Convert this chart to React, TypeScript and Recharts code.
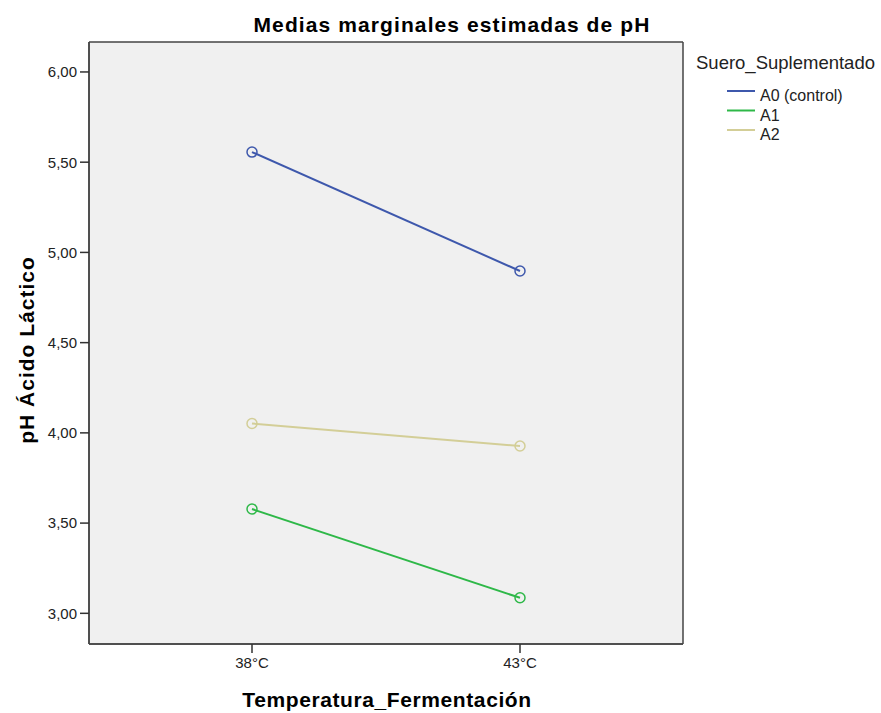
import React from 'react';
import { LineChart, Line, XAxis, YAxis, Label, CartesianGrid } from 'recharts';

const categories = ['38°C', '43°C'];
const seriesA0 = [5.556, 4.897];
const seriesA1 = [3.578, 3.086];
const seriesA2 = [4.052, 3.927];
const seriesNames = ['A0 (control)', 'A1', 'A2'];
const seriesKeys = ['A0', 'A1', 'A2'];
const seriesColors = ['#3E58AC', '#2EB848', '#D3CE97'];
const yTicks = [3, 3.5, 4, 4.5, 5, 5.5, 6];

const chartTitle = 'Medias marginales estimadas de pH';
const xTitle = 'Temperatura_Fermentación';
const yTitle = 'pH Ácido Láctico';
const legendTitle = 'Suero_Suplementado';

const data = categories.map((c, i) => ({
  temp: c,
  A0: seriesA0[i],
  A1: seriesA1[i],
  A2: seriesA2[i],
}));

const FONT = '"Liberation Sans", Arial, sans-serif';
const fmt = (v: number) => v.toFixed(2).replace('.', ',');

export default function App() {
  return (
    <div style={{ position: 'relative', width: 881, height: 713, background: '#fff', fontFamily: FONT }}>
      <style>{'body{margin:0;}'}</style>
      <LineChart
        width={881}
        height={713}
        data={data}
        margin={{ top: 42, right: 198, bottom: 0, left: 0 }}
        style={{ fontFamily: FONT }}
      >
        <CartesianGrid
          fill="#F0F0F0"
          stroke="#444"
          strokeWidth={1.5}
          horizontalCoordinatesGenerator={(p: any) => [p.offset.top, p.offset.top + p.offset.height]}
          verticalCoordinatesGenerator={(p: any) => [p.offset.left, p.offset.left + p.offset.width]}
        />
        <XAxis
          dataKey="temp"
          padding={{ left: 163, right: 163 }}
          height={69}
          tickSize={9}
          tickMargin={4}
          tick={{ fill: '#222', fontSize: 15, fontFamily: FONT }}
          axisLine={{ stroke: '#444', strokeWidth: 1.5 }}
          tickLine={{ stroke: '#333', strokeWidth: 1.5 }}
        >
          <Label
            content={(p: any) => {
              const vb = p.viewBox || { x: 89, y: 644, width: 594 };
              return (
                <text
                  x={vb.x + vb.width / 2 + 1}
                  y={707}
                  textAnchor="middle"
                  fontFamily={FONT}
                  fontWeight="bold"
                  fontSize={21}
                  letterSpacing={0.6}
                  fill="#000"
                >
                  {xTitle}
                </text>
              );
            }}
          />
        </XAxis>
        <YAxis
          width={89}
          domain={[2.83, 6.166]}
          allowDataOverflow
          ticks={yTicks}
          interval={0}
          tickFormatter={fmt}
          tickSize={9}
          tickMargin={3}
          tick={{ fill: '#222', fontSize: 15, fontFamily: FONT }}
          axisLine={{ stroke: '#444', strokeWidth: 1.5 }}
          tickLine={{ stroke: '#333', strokeWidth: 1.5 }}
        >
          <Label
            content={() => (
              <text
                x={34}
                y={350}
                transform="rotate(-90 34 350)"
                textAnchor="middle"
                fontFamily={FONT}
                fontWeight="bold"
                fontSize={21}
                letterSpacing={1}
                fill="#000"
              >
                {yTitle}
              </text>
            )}
          />
        </YAxis>
        {seriesKeys.map((k, i) => (
          <Line
            key={k}
            dataKey={k}
            name={seriesNames[i]}
            stroke={seriesColors[i]}
            strokeWidth={2}
            isAnimationActive={false}
            dot={{ r: 5, fill: 'none', stroke: seriesColors[i], strokeWidth: 1.5 }}
            activeDot={false}
          />
        ))}
      </LineChart>
      <svg
        width={881}
        height={713}
        style={{ position: 'absolute', left: 0, top: 0, pointerEvents: 'none' }}
      >
        <text
          x={452}
          y={32}
          textAnchor="middle"
          fontFamily={FONT}
          fontWeight="bold"
          fontSize={21}
          letterSpacing={1.1}
          fill="#000"
        >
          {chartTitle}
        </text>
        <text x={696} y={69} fontFamily={FONT} fontSize={18.5} fill="#222">
          {legendTitle}
        </text>
        {seriesNames.map((n, i) => {
          const y = 91 + i * 19.5;
          return (
            <g key={n}>
              <line x1={727} x2={755} y1={y} y2={y} stroke={seriesColors[i]} strokeWidth={2} />
              <text x={760} y={y + 10} fontFamily={FONT} fontSize={16} fill="#222">
                {n}
              </text>
            </g>
          );
        })}
      </svg>
    </div>
  );
}
